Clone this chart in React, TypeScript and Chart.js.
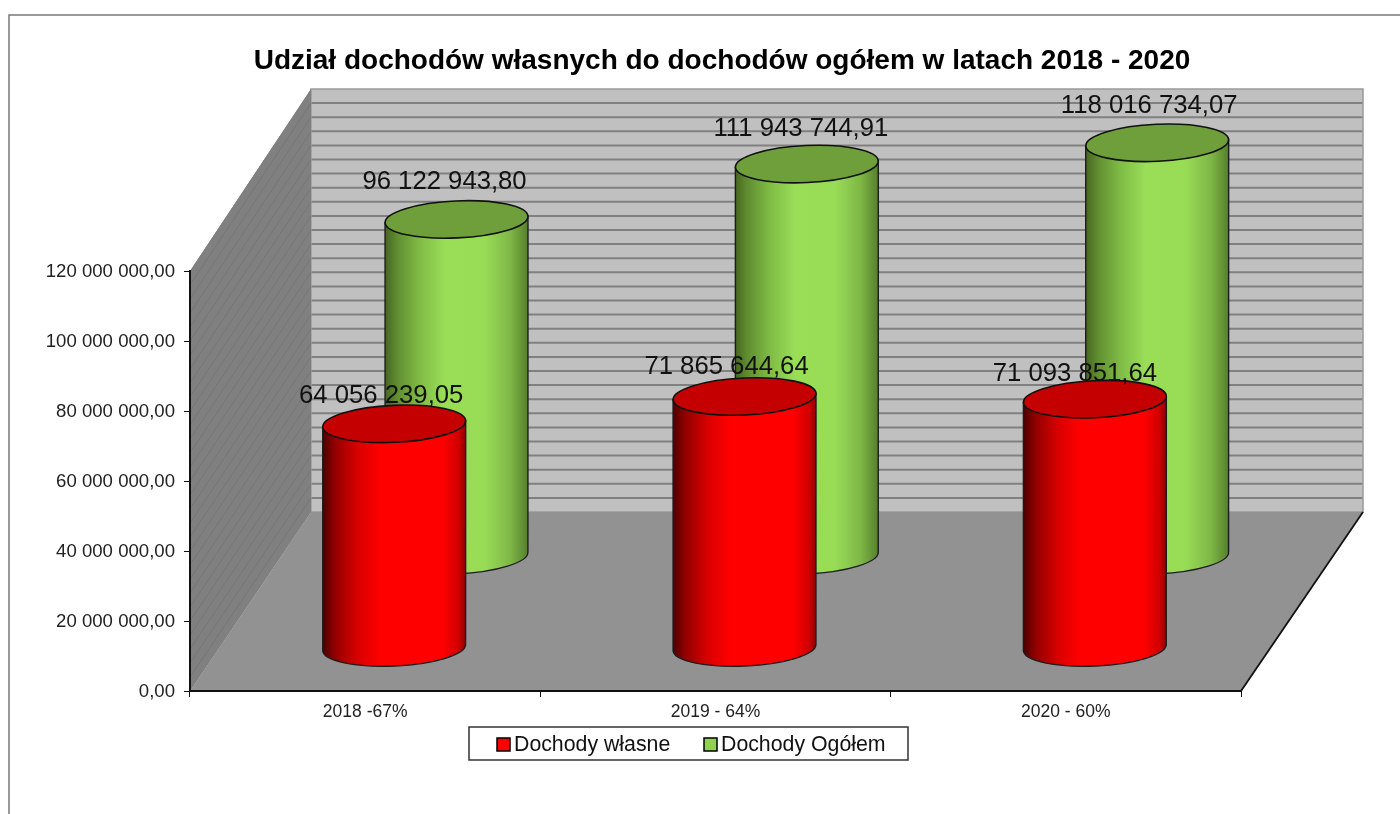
import React, { useEffect, useRef } from "react";
import { Chart, registerables } from "chart.js";

Chart.register(...registerables);

const TITLE = "Udział dochodów własnych do dochodów ogółem w latach 2018 - 2020";
const CATEGORIES = ["2018 -67%", "2019 - 64%", "2020 - 60%"];
const OWN_LABEL = "Dochody własne";
const TOTAL_LABEL = "Dochody Ogółem";
const OWN_VALUES = [64056239.05, 71865644.64, 71093851.64];
const TOTAL_VALUES = [96122943.8, 111943744.91, 118016734.07];
const Y_MAX = 120000000;
const Y_STEP = 20000000;
const WALL_STEP = 4000000;

const FONT = "'Liberation Sans', Arial, sans-serif";
const DEPTH_X = 121;
const DEPTH_Y = 179;
const BACK_SCALE = 423 / 420;

// Per-dataset look: position in the 3D depth, cylinder shading, label nudges.
const STYLES = [
  {
    depth: 0.24,
    stops: [[0, "#4a0000"], [0.08, "#8f0000"], [0.24, "#d80000"], [0.4, "#ff0000"], [0.84, "#ff0000"], [0.95, "#d00000"], [1, "#8c0000"]],
    cap: "#c40000",
    nudgeX: [-13, -18, -20],
    nudgeY: [-28, -30, -25],
  },
  {
    depth: 0.755,
    stops: [[0, "#46661f"], [0.08, "#5f8c30"], [0.24, "#7fbb45"], [0.42, "#9ade58"], [0.7, "#98dc56"], [0.88, "#7eb646"], [1, "#557f2b"]],
    cap: "#6f9f3b",
    nudgeX: [-12, -6, -8],
    nudgeY: [-38, -35, -37],
  },
];

const fmt = (v: number) =>
  v.toFixed(2).replace(".", ",").replace(/\B(?=(\d{3})+(?!\d))/g, " ");

const depthPlugin = {
  id: "depth",
  afterLayout(chart: any) {
    // the title is centred on the picture's frame, not on the plot
    chart.titleBlock.left = 44;
    chart.titleBlock.right = 1400;
  },
  beforeDraw(chart: any) {
    const { ctx, chartArea: a, scales } = chart;
    const y = scales.y;
    const L = a.left, R = a.right, T = a.top, B = a.bottom;
    const backBottom = B - DEPTH_Y;
    const backY = (v: number) => backBottom - (B - y.getPixelForValue(v)) * BACK_SCALE;
    const backTop = backY(Y_MAX);

    ctx.save();
    // outer frame
    ctx.strokeStyle = "#787878";
    ctx.lineWidth = 1.5;
    ctx.beginPath();
    ctx.moveTo(9, 814);
    ctx.lineTo(9, 15);
    ctx.lineTo(1400, 15);
    ctx.stroke();

    // back wall
    ctx.fillStyle = "#c0c0c0";
    ctx.fillRect(L + DEPTH_X, backTop, R - L + 1, backBottom - backTop);
    ctx.strokeStyle = "#808080";
    ctx.lineWidth = 2;
    for (let v = WALL_STEP; v < Y_MAX; v += WALL_STEP) {
      const py = backY(v);
      ctx.beginPath();
      ctx.moveTo(L + DEPTH_X, py);
      ctx.lineTo(R + DEPTH_X + 1, py);
      ctx.stroke();
    }
    ctx.lineWidth = 1.5;
    ctx.strokeStyle = "#9a9a9a";
    ctx.strokeRect(L + DEPTH_X, backTop, R - L + 1, backBottom - backTop);

    // side wall
    ctx.save();
    ctx.beginPath();
    ctx.moveTo(L, B);
    ctx.lineTo(L, T);
    ctx.lineTo(L + DEPTH_X, backTop);
    ctx.lineTo(L + DEPTH_X, backBottom);
    ctx.closePath();
    ctx.fillStyle = "#808080";
    ctx.fill();
    ctx.clip();
    ctx.strokeStyle = "#767676";
    ctx.lineWidth = 1;
    for (let v = 0; v <= Y_MAX; v += WALL_STEP) {
      ctx.beginPath();
      ctx.moveTo(L, y.getPixelForValue(v));
      ctx.lineTo(L + DEPTH_X, backY(v));
      ctx.stroke();
    }
    ctx.restore();

    // floor
    ctx.beginPath();
    ctx.moveTo(L, B);
    ctx.lineTo(L + DEPTH_X, backBottom);
    ctx.lineTo(R + DEPTH_X + 1, backBottom);
    ctx.lineTo(R, B);
    ctx.closePath();
    ctx.fillStyle = "#929292";
    ctx.fill();
    ctx.strokeStyle = "#111";
    ctx.lineWidth = 1.8;
    ctx.beginPath();
    ctx.moveTo(R, B);
    ctx.lineTo(R + DEPTH_X + 1, backBottom);
    ctx.stroke();
    ctx.restore();
  },
  beforeDatasetDraw(chart: any, args: any) {
    const { ctx } = chart;
    const st = STYLES[args.index];
    const dx = st.depth * DEPTH_X;
    const dy = st.depth * DEPTH_Y;
    const rot = (-2.6 * Math.PI) / 180;
    for (const el of args.meta.data) {
      const cx = el.x + dx;
      const rx = el.width / 2;
      const ry = 18.5;
      const top = el.y - dy;
      const bot = el.base - dy;
      const g = ctx.createLinearGradient(cx - rx, 0, cx + rx, 0);
      st.stops.forEach((s: any) => g.addColorStop(s[0], s[1]));
      const off = rx * Math.sin(rot);
      ctx.save();
      // body
      ctx.beginPath();
      ctx.moveTo(cx - rx, top - off);
      ctx.lineTo(cx - rx, bot - off);
      ctx.ellipse(cx, bot, rx, ry, rot, Math.PI, 0, true);
      ctx.lineTo(cx + rx, top + off);
      ctx.closePath();
      ctx.fillStyle = g;
      ctx.fill();
      ctx.strokeStyle = "#1c1c1c";
      ctx.lineWidth = 1.4;
      ctx.stroke();
      // cap
      ctx.beginPath();
      ctx.ellipse(cx, top, rx, ry, rot, 0, Math.PI * 2);
      ctx.fillStyle = st.cap;
      ctx.fill();
      ctx.strokeStyle = "#111";
      ctx.lineWidth = 1.6;
      ctx.stroke();
      ctx.restore();
    }
    return false;
  },
  afterDatasetsDraw(chart: any) {
    const { ctx } = chart;
    ctx.save();
    ctx.font = `25.7px ${FONT}`;
    ctx.fillStyle = "#111";
    ctx.textAlign = "center";
    ctx.textBaseline = "middle";
    chart.data.datasets.forEach((ds: any, i: number) => {
      const st = STYLES[i];
      chart.getDatasetMeta(i).data.forEach((el: any, j: number) => {
        const x = el.x + st.depth * DEPTH_X + st.nudgeX[j];
        const yy = el.y - st.depth * DEPTH_Y + st.nudgeY[j];
        ctx.fillText(fmt(ds.data[j]), x, yy);
      });
    });
    ctx.restore();
  },
  afterDraw(chart: any) {
    const { ctx } = chart;
    ctx.save();
    ctx.fillStyle = "#fff";
    ctx.strokeStyle = "#333";
    ctx.lineWidth = 1.5;
    ctx.fillRect(469, 727, 439, 33);
    ctx.strokeRect(469, 727, 439, 33);
    ctx.font = `21.3px ${FONT}`;
    ctx.textBaseline = "middle";
    const lefts = [497, 704];
    chart.data.datasets.forEach((ds: any, i: number) => {
      ctx.fillStyle = ds.backgroundColor;
      ctx.fillRect(lefts[i], 738, 13, 13);
      ctx.strokeStyle = "#000";
      ctx.lineWidth = 1.5;
      ctx.strokeRect(lefts[i], 738, 13, 13);
      ctx.fillStyle = "#111";
      ctx.fillText(ds.label, lefts[i] + 17, 745);
    });
    ctx.restore();
  },
};

export default function App() {
  const ref = useRef<HTMLCanvasElement>(null);
  useEffect(() => {
    const chart = new Chart(ref.current as HTMLCanvasElement, {
      type: "bar",
      data: {
        labels: CATEGORIES,
        datasets: [
          { label: OWN_LABEL, data: OWN_VALUES, backgroundColor: "#ff0000" },
          { label: TOTAL_LABEL, data: TOTAL_VALUES, backgroundColor: "#92d050" },
        ],
      },
      plugins: [depthPlugin],
      options: {
        responsive: false,
        animation: false,
        devicePixelRatio: 1,
        layout: { padding: { left: 44, right: 159, top: 0, bottom: 0 } },
        datasets: { bar: { grouped: false, categoryPercentage: 1, barPercentage: 0.408 } },
        plugins: {
          legend: { display: false },
          tooltip: { enabled: false },
          title: {
            display: true,
            text: TITLE,
            color: "#000",
            font: { family: FONT, size: 28, weight: "bold" },
            padding: { top: 44.5, bottom: 192.9 },
          },
        },
        scales: {
          x: {
            afterFit: (s: any) => { s.height = 123; },
            border: { display: true, color: "#111", width: 2 },
            grid: { drawOnChartArea: false, drawTicks: true, tickLength: 6, color: "#111", offset: true },
            ticks: { color: "#222", font: { family: FONT, size: 17.5 }, padding: 5, maxRotation: 0 },
          },
          y: {
            min: 0,
            max: Y_MAX,
            afterFit: (s: any) => { s.width = 146; },
            border: { display: true, color: "#111", width: 2 },
            grid: { drawOnChartArea: false, drawTicks: true, tickLength: 6, color: "#111" },
            ticks: {
              stepSize: Y_STEP,
              color: "#222",
              padding: 9,
              labelOffset: 1,
              font: { family: FONT, size: 18.6 },
              callback: (v: any) => fmt(Number(v)),
            },
          },
        },
      } as any,
    });
    return () => chart.destroy();
  }, []);
  return (
    <div style={{ position: "absolute", left: 0, top: 0, width: 1400, height: 814, background: "#fff" }}>
      <canvas ref={ref} width={1400} height={814} style={{ display: "block" }} />
    </div>
  );
}
